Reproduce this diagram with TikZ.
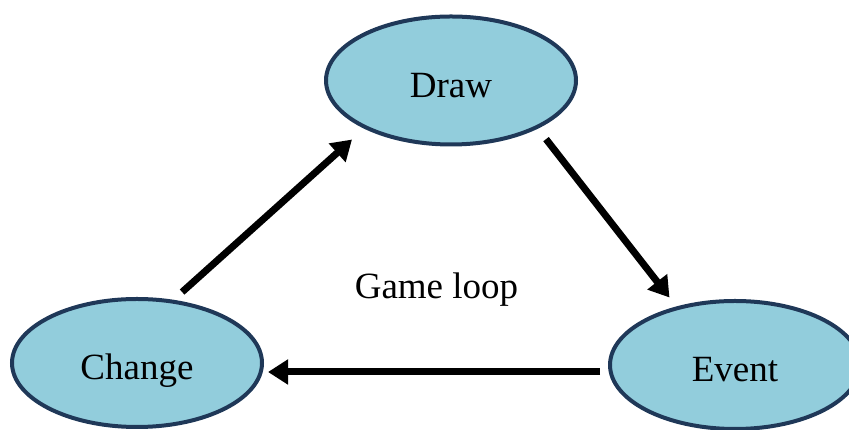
\documentclass[tikz,border=0pt]{standalone}
\usepackage{fontspec}
\setmainfont{Liberation Serif}
\usepackage{tikz}
\usetikzlibrary{
  arrows.meta,
  positioning,
  shapes.geometric
}
\definecolor{loopfill}{RGB}{146, 205, 220}
\definecolor{loopedge}{RGB}{31, 56, 88}

\begin{document}
\begin{tikzpicture}[x=1pt, y=1pt,
  looptext/.style={inner sep=0pt, text height=34pt, text depth=0pt,
    font=\fontsize{37}{44}\selectfont},
  stage/.style={looptext, ellipse, draw=loopedge, line width=4pt, fill=loopfill,
    minimum width=250pt, minimum height=128pt},
  looparrow/.style={line width=7pt, -{Triangle[length=20pt, width=24pt]}}]
  \useasboundingbox (0, 0) rectangle (849, 430);
  % the three stages
  \node[stage] (draw) at (451, 349.5) {Draw};
  \node[stage] (change) at (137, 67) {Change};
  \node[stage] (event) at (735, 65) {Event};
  \node[looptext] (label) at (436.5, 148.3) {Game loop};
  % arrows round the loop
  \draw[looparrow, shorten <=11.6pt, shorten >=16.3pt] (change.60.1) -- (draw.209.2);
  \draw[looparrow, shorten <=13.3pt, shorten >=11.3pt] (draw.-29.7) -- (event.135.9);
  \draw[looparrow, shorten <=8pt, shorten >=4pt] ([yshift=-7pt]event.west) -- ([yshift=-7pt]event.west -| change.east);
\end{tikzpicture}
\end{document}
